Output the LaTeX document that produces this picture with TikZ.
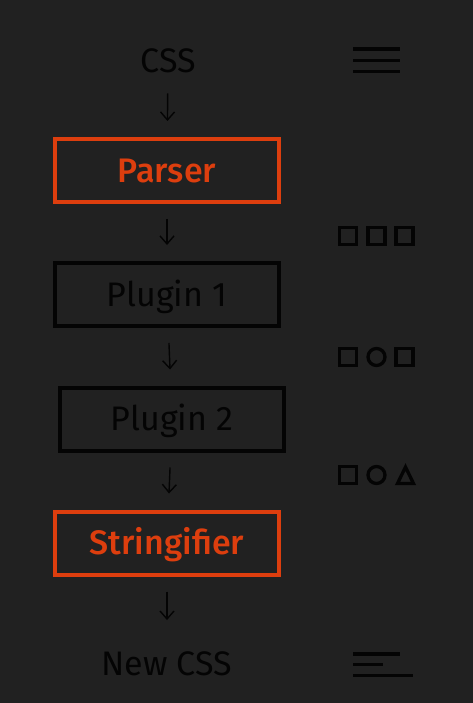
\documentclass[tikz,border=0pt]{standalone}
\usepackage{fontspec}
\setmainfont{Fira Sans}
\newfontfamily\midfont{Fira Sans Medium}
\usetikzlibrary{arrows.meta}

\definecolor{bg}{RGB}{33,33,33}
\definecolor{ink}{RGB}{4,4,4}
\definecolor{hot}{RGB}{221,62,14}

\tikzset{
  stage/.style={draw=ink, line width=4pt, minimum width=224pt, minimum height=63pt,
    inner sep=0pt, text height=23.5pt, text depth=0pt, text=ink,
    font=\fontsize{34}{34}\selectfont},
  core/.style={stage, draw=hot, text=hot, font=\midfont\fontsize{34}{34}\selectfont},
  word/.style={inner sep=0pt, text height=23.5pt, text depth=0pt, text=ink,
    font=\fontsize{34}{34}\selectfont},
  flow/.style={draw=ink, line width=1.4pt, shorten <=15pt, shorten >=16pt,
    -{Straight Barb[length=8pt, width=14pt]}},
  icon/.style={draw=ink, line width=3.3pt},
}

\begin{document}
\begin{tikzpicture}[x=1pt, y=-1pt]
    \fill[bg] (0,0) rectangle (473,703);
    \useasboundingbox (0,0) rectangle (473,703);

    % pipeline
    \node[word] (css) at (168,60.5) {CSS};
    \node[core] (parser) at (167,170.5) {Parser};
    \node[stage] (plugA) at (167,294.5) {Plugin 1};
    \node[stage] (plugB) at (172,419) {Plugin 2};
    \node[core] (strfy) at (167,543) {Stringifier};
    \node[word] (newcss) at (167,664) {New CSS};

    \draw[flow, shorten <=21pt] (css) -- (parser);
    \draw[flow] (parser) -- (plugA);
    \draw[flow] (plugA) -- (plugB);
    \draw[flow] (plugB) -- (strfy);
    \draw[flow, shorten >=32pt] (strfy) -- (newcss);

    % source text
    \foreach \y in {49,60.7,71.7}
        \draw[icon] (353,\y) -- (400,\y);

    % tokens
    \foreach \x in {348,376.5,404.5}
        \draw[icon] (\x-8.5,227.5) rectangle (\x+8.5,244.5);

    \draw[icon] (339.5,348.5) rectangle (356.5,365.5);
    \draw[icon] (376.5,357) circle [radius=8.5pt];
    \draw[icon] (396,348.5) rectangle (413,365.5);

    \draw[icon] (339.5,466.5) rectangle (356.5,483.5);
    \draw[icon] (376.5,475) circle [radius=8.5pt];
    \draw[icon] (405.5,467) -- (413.5,483.5) -- (397.5,483.5) -- cycle;

    % output text
    \draw[icon] (353,654) -- (400,654);
    \draw[icon] (353,664.7) -- (383.3,664.7);
    \draw[icon] (353,675.7) -- (412.7,675.7);
\end{tikzpicture}
\end{document}
